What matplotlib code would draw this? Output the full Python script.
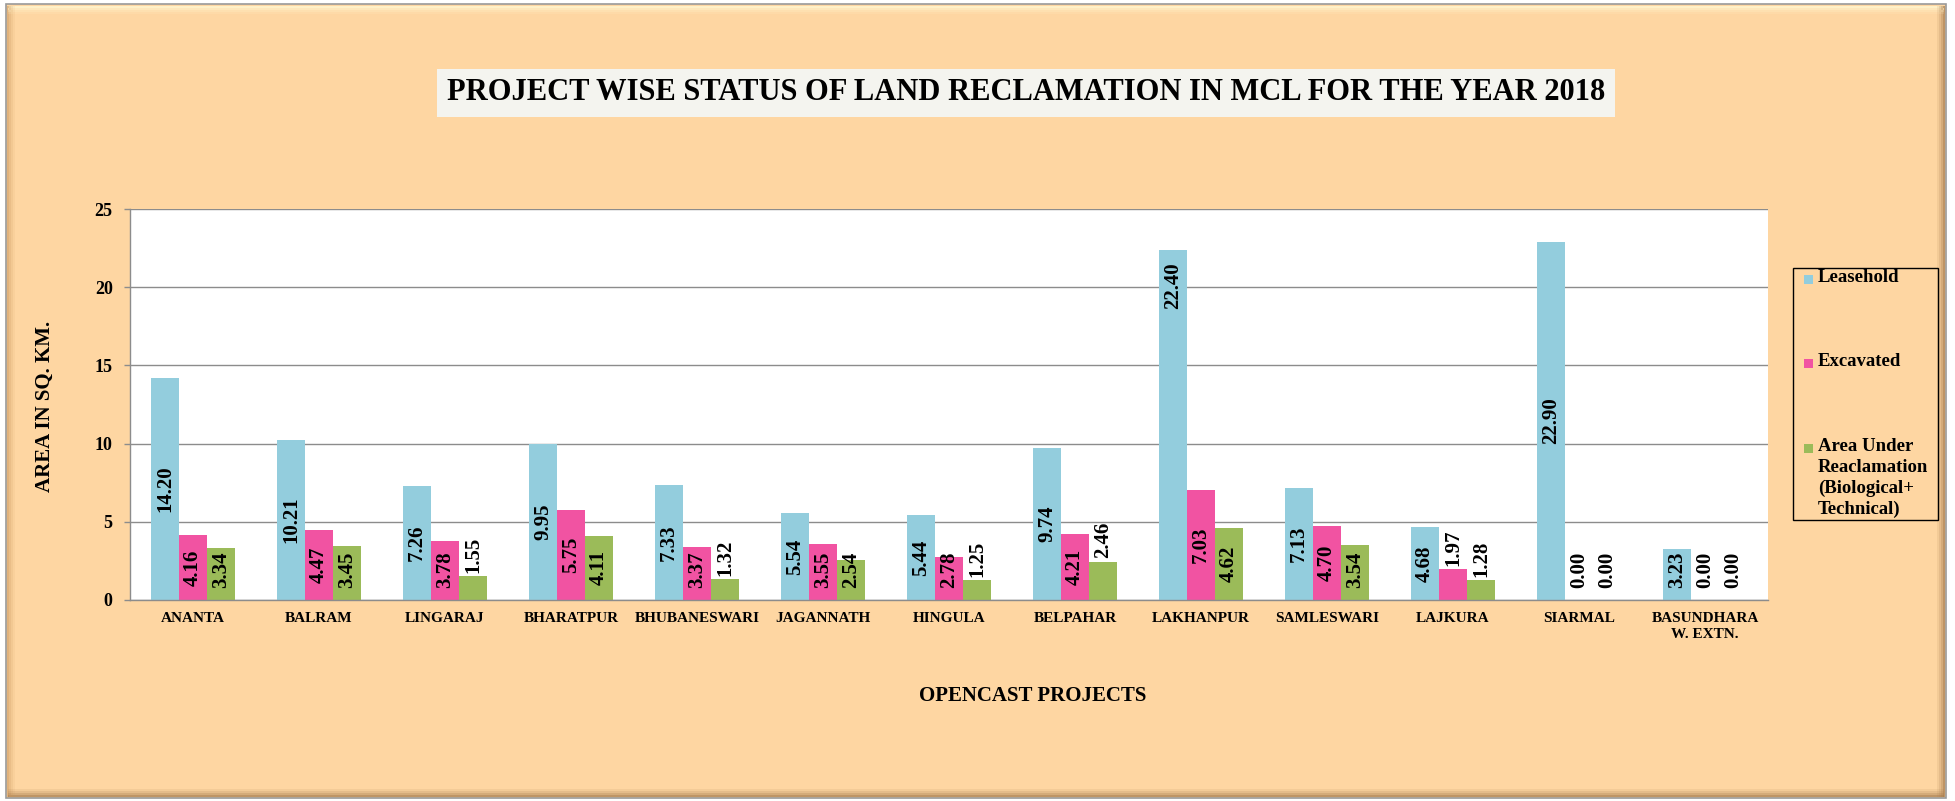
import numpy as np
import matplotlib.pyplot as plt
from matplotlib.patches import Rectangle

# data
projects = ['ANANTA', 'BALRAM', 'LINGARAJ', 'BHARATPUR', 'BHUBANESWARI', 'JAGANNATH',
            'HINGULA', 'BELPAHAR', 'LAKHANPUR', 'SAMLESWARI', 'LAJKURA', 'SIARMAL',
            'BASUNDHARA\nW. EXTN.']
leasehold = [14.20, 10.21, 7.26, 9.95, 7.33, 5.54, 5.44, 9.74, 22.40, 7.13, 4.68, 22.90, 3.23]
excavated = [4.16, 4.47, 3.78, 5.75, 3.37, 3.55, 2.78, 4.21, 7.03, 4.70, 1.97, 0.00, 0.00]
reclaimed = [3.34, 3.45, 1.55, 4.11, 1.32, 2.54, 1.25, 2.46, 4.62, 3.54, 1.28, 0.00, 0.00]
series_names = ['Leasehold', 'Excavated', 'Area Under\nReaclamation\n(Biological+\nTechnical)']
yticks = [0, 5, 10, 15, 20, 25]

colors = ['#93CDDD', '#F153A2', '#9BBB59']
peach = '#FED6A2'
grid_col = '#8C8C8C'

W, H = 1955, 801
plt.rcParams['font.family'] = ['Liberation Serif', 'DejaVu Serif']
plt.rcParams['font.weight'] = 'bold'


def fx(x):
    return x / W


def fy(y):
    return 1 - y / H


def fig_rect(x0, y0, x1, y1, **kw):
    # rectangle given in pixel coords (origin top-left)
    r = Rectangle((fx(x0), fy(y1)), fx(x1) - fx(x0), fy(y0) - fy(y1),
                  transform=fig.transFigure, **kw)
    fig.patches.append(r)
    return r


fig = plt.figure(figsize=(W / 100, H / 100), dpi=100)
fig.patch.set_facecolor('white')

# outer frame with a bit of bevel (kept below the axes)
fig_rect(6, 4, 1946, 798, facecolor=peach, edgecolor='#9A9A9A', lw=1.2, zorder=-10)
for k, a in enumerate([0.9, 0.6, 0.35, 0.15]):
    fig_rect(8, 6 + 2 * k, 1944, 8 + 2 * k, facecolor='#FFF4CC', edgecolor='none', alpha=a, zorder=-9)
    fig_rect(7 + 2 * k, 6, 9 + 2 * k, 797, facecolor='#C9955A', edgecolor='none', alpha=a * 0.6, zorder=-9)
    fig_rect(1943 - 2 * k, 6, 1945 - 2 * k, 797, facecolor='#A77C4E', edgecolor='none', alpha=a * 0.8, zorder=-9)
    fig_rect(8, 795 - 2 * k, 1944, 797 - 2 * k, facecolor='#A77C4E', edgecolor='none', alpha=a * 0.8, zorder=-9)

ax = fig.add_axes([fx(130), fy(600), fx(1768) - fx(130), fy(209) - fy(600)])
ax.set_facecolor('white')

x = np.arange(len(projects))
w = 0.222
series = [leasehold, excavated, reclaimed]
top_inside = {('LAKHANPUR', 0)}

for k, (vals, col) in enumerate(zip(series, colors)):
    bars = ax.bar(x + (k - 1) * w, vals, width=w, color=col, zorder=2)
    for i, (v, b) in enumerate(zip(vals, bars)):
        xc = b.get_x() + b.get_width() / 2
        txt = f'{v:.2f}'
        if (projects[i], k) in top_inside:
            ax.text(xc, v - 0.8, txt, rotation=90, ha='center', va='top', fontsize=15, zorder=3)
        elif 0 < v < 2.5:
            ax.text(xc, v + 0.2, txt, rotation=90, ha='center', va='bottom', fontsize=15, zorder=3)
        else:
            ax.text(xc, max(v / 2, 1.92), txt, rotation=90, ha='center', va='center', fontsize=15, zorder=3)

ax.set_xlim(-0.5, len(projects) - 0.5)
ax.set_ylim(0, 25)
ax.set_yticks(yticks)
ax.set_yticklabels([str(t) for t in yticks], fontsize=13)
ax.set_xticks(x)
ax.set_xticklabels(projects, fontsize=11)
ax.tick_params(axis='y', length=4.5, width=1, color=grid_col, pad=8)
ax.tick_params(axis='x', length=0, pad=9)
ax.yaxis.grid(True, color=grid_col, lw=1.0, zorder=1)
ax.set_axisbelow(True)
for s in ['top', 'right']:
    ax.spines[s].set_visible(False)
for s in ['left', 'bottom']:
    ax.spines[s].set_color(grid_col)
    ax.spines[s].set_linewidth(1.0)

# titles
fig.text(fx(1026), fy(93), 'PROJECT WISE STATUS OF LAND RECLAMATION IN MCL FOR THE YEAR 2018',
         ha='center', va='center', fontsize=22,
         bbox=dict(facecolor='#F4F4EF', edgecolor='none', pad=7))
fig.text(fx(45), fy(406), 'AREA IN SQ. KM.', rotation=90, ha='center', va='center', fontsize=15)
fig.text(fx(1033), fy(696), 'OPENCAST PROJECTS', ha='center', va='center', fontsize=15)

# legend drawn by hand to keep the wide spacing
fig_rect(1793, 268, 1938, 520, facecolor='none', edgecolor='black', lw=1.0, zorder=3)
tops = [269, 353, 438]
for name, col, t in zip(series_names, colors, tops):
    fig_rect(1804, t + 6, 1813, t + 15, facecolor=col, edgecolor='none', zorder=3)
    fig.text(fx(1818), fy(t), name, ha='left', va='top', fontsize=13.5, linespacing=1.3)

fig.savefig('out.png', dpi=100, facecolor=fig.get_facecolor())
